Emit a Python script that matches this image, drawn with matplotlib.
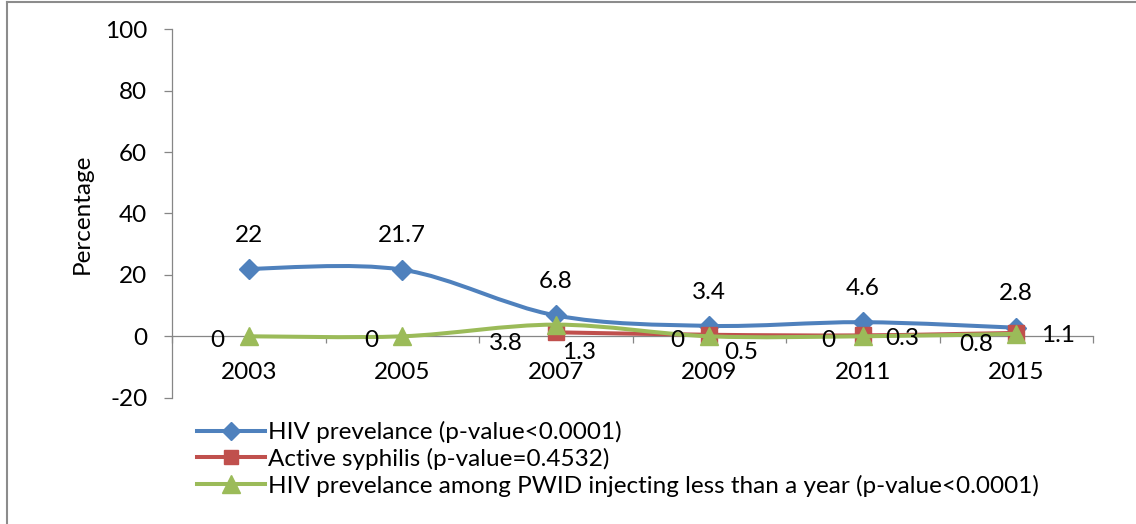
import numpy as np
import matplotlib
matplotlib.use("Agg")
import matplotlib.pyplot as plt
from matplotlib.path import Path
from matplotlib.patches import PathPatch
from matplotlib.lines import Line2D

plt.rcParams['font.family'] = ['Lato', 'DejaVu Sans']

# ---- data ----
years = ["2003", "2005", "2007", "2009", "2011", "2015"]
hiv_prev = [22, 21.7, 6.8, 3.4, 4.6, 2.8]
syphilis = [np.nan, np.nan, 1.3, 0.5, 0.3, 1.1]
hiv_pwid = [0, 0, 3.8, 0, 0, 0.8]

series_names = [
    "HIV prevelance (p-value<0.0001)",
    "Active syphilis (p-value=0.4532)",
    "HIV prevelance among PWID injecting less than a year (p-value<0.0001)",
]
y_ticks = [-20, 0, 20, 40, 60, 80, 100]

# ---- styling ----
BLUE = "#4F81BD"
RED = "#C0504D"
GREEN = "#9BBB59"
GRID = "#868686"
FS = 17.5
LW = 2.9
PX = 72 / 100  # pixels -> points at dpi 100

# label offsets in pixels (dx right, dy down) from each point to the text centre
blue_off = [(0, -36)] * 6
green_off = [(-31, 1.5), (-31, 1.5), (-50, 17), (-32, 2), (-34, 2), (-40, 8)]
red_off = [None, None, (23, 18), (32, 15), (40, 1), (42, 0)]

W, H = 1136, 524
fig = plt.figure(figsize=(W / 100, H / 100), dpi=100)
L, R, T, B = 172, 1093, 29.3, 397.7
ax = fig.add_axes([L / W, 1 - B / H, (R - L) / W, (B - T) / H])

x = np.arange(len(years))


def smooth_path(xs, ys):
    pts = np.array([(a, b) for a, b in zip(xs, ys) if not np.isnan(b)], float)
    n = len(pts)
    verts = [pts[0]]
    codes = [Path.MOVETO]
    for i in range(n - 1):
        p_prev = pts[i - 1] if i > 0 else pts[i]
        p_next = pts[i + 2] if i + 2 < n else pts[i + 1]
        c1 = pts[i] + (pts[i + 1] - p_prev) / 6
        c2 = pts[i + 1] - (p_next - pts[i]) / 6
        verts += [c1, c2, pts[i + 1]]
        codes += [Path.CURVE4] * 3
    return Path(verts, codes)


def draw_series(vals, color, marker, ms, z):
    patch = PathPatch(smooth_path(x, vals), fill=False, edgecolor=color, lw=LW,
                      capstyle="round", joinstyle="round", zorder=z)
    ax.add_patch(patch)
    ax.plot(x, vals, linestyle="none", marker=marker, markersize=ms,
            color=color, markeredgecolor=color, zorder=z + 0.5, clip_on=False)


draw_series(hiv_prev, BLUE, "D", 10.5, 3)
draw_series(syphilis, RED, "s", 11.5, 4)
draw_series(hiv_pwid, GREEN, "^", 13.5, 5)


def fmt(v):
    return f"{v:g}"


def labels(vals, offs):
    em = FS / PX  # font size in pixels
    for xi, v, off in zip(x, vals, offs):
        if off is None or np.isnan(v):
            continue
        dx, dy = off
        ax.annotate(fmt(v), (xi, v), xytext=(dx * PX, -(dy + 0.36 * em) * PX),
                    textcoords="offset points", ha="center", va="baseline",
                    fontsize=FS, color="black", zorder=10, annotation_clip=False)


labels(hiv_prev, blue_off)
labels(hiv_pwid, green_off)
labels(syphilis, red_off)

# ---- axes ----
ax.set_xlim(-0.5, len(years) - 0.5)
ax.set_ylim(-20, 100)
ax.set_yticks(y_ticks)
ax.set_yticklabels([str(t) for t in y_ticks], fontsize=FS)
ax.tick_params(axis="y", length=5.8, width=0.9, color=GRID, pad=12, direction="out")

for s in ["top", "right"]:
    ax.spines[s].set_visible(False)
ax.spines["left"].set_color(GRID)
ax.spines["left"].set_linewidth(0.9)
ax.spines["bottom"].set_position(("data", 0))
ax.spines["bottom"].set_color(GRID)
ax.spines["bottom"].set_linewidth(0.9)

ax.set_xticks(x)
ax.set_xticklabels(years, fontsize=FS)
ax.set_xticks(np.arange(-0.5, len(years), 1.0), minor=True)
ax.tick_params(axis="x", which="major", length=0, pad=(34 + 0.36 * FS / PX) * PX)
ax.tick_params(axis="x", which="minor", length=5, width=0.9, color=GRID, direction="out")
for lab in ax.get_xticklabels():
    lab.set_va("baseline")

ax.set_ylabel("Percentage", fontsize=FS)
ax.yaxis.label.set_va("center")
ax.yaxis.set_label_coords((82 - L) / (R - L), (B - 214) / (B - T))

# ---- legend ----
handles = [
    Line2D([], [], color=BLUE, lw=LW, marker="D", markersize=9.5),
    Line2D([], [], color=RED, lw=LW, marker="s", markersize=10.5),
    Line2D([], [], color=GREEN, lw=LW, marker="^", markersize=12.5),
]
ax.legend(handles, series_names, loc="upper left",
          bbox_to_anchor=(197 / W, 1 - 421 / H), bbox_transform=fig.transFigure,
          frameon=False, borderpad=0, borderaxespad=0, fontsize=FS,
          handlelength=2.8, handletextpad=0.12, labelspacing=0.19)

# ---- outer border (left and top edges) ----
fig.add_artist(Line2D([7 / W, 7 / W], [0, 1 - 2 / H], color="#8C8C8C", lw=1.5,
                      transform=fig.transFigure))
fig.add_artist(Line2D([7 / W, 1], [1 - 2 / H, 1 - 2 / H], color="#8C8C8C", lw=1.5,
                      transform=fig.transFigure))

fig.savefig("out.png", dpi=100)
